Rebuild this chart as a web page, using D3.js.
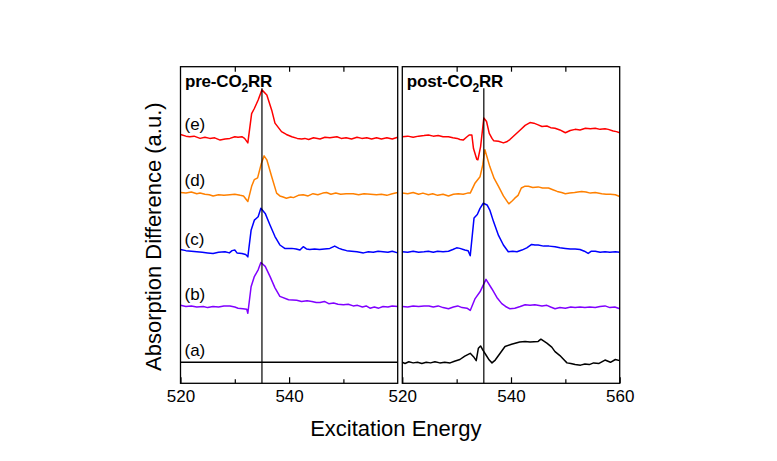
<!DOCTYPE html>
<html><head><meta charset="utf-8">
<script src="https://cdn.jsdelivr.net/npm/d3@7"></script>
<style>
html,body{margin:0;padding:0;background:#fff;}
text{font-family:"Liberation Sans",Arial,sans-serif;fill:#000;}
</style></head>
<body>
<svg id="chart" width="777" height="461"></svg>
<script>
// ---------- data ----------
const panelTitles = ["pre-CO", "post-CO"];
const seriesLabels = ["(a)", "(b)", "(c)", "(d)", "(e)"];
const seriesColors = ["#000000", "#8000ff", "#0000ff", "#ff8000", "#ff0000"];
const seriesOffsets = [0, 0.99, 1.96, 3.0, 4.0];
const markerEnergy = 535;
const xMajorTicks = [[520, 540], [520, 540, 560]];
const xMinorTicks = [530, 550];

const preA = [[520,0],[560,0]];
const preB = [[520,0.02],[521,0],[522,0.01],[523,-0.01],[524.2,0],[525,-0.02],[526,0],[527,-0.01],[528,0.01],[529.1,0.01],[530,-0.01],[530.6,-0.03],[531.5,-0.04],[532.2,-0.05],[532.4,-0.12],[533,0.35],[533.6,0.53],[534.3,0.65],[534.8,0.78],[535.6,0.71],[536.5,0.53],[537.4,0.33],[538.3,0.18],[539.9,0.12],[541.4,0.11],[542.3,0.09],[543.3,0.1],[544.2,0.09],[545,0.07],[545.7,0.07],[546.5,0.09],[547.3,0.05],[548.2,0.06],[549,0.04],[550,0.03],[550.9,0.04],[551.8,0.01],[552.6,0.02],[553.5,-0.01],[554.2,0.01],[554.9,-0.03],[555.7,-0.01],[556.5,-0.03],[557.3,0],[558.2,-0.01],[559,0.01],[560,0]];
const preC = [[520,0.04],[521,0.02],[522,0.01],[523,0],[524,-0.01],[525,-0.02],[526,-0.03],[527,-0.01],[528.2,0],[529,-0.02],[529.5,0.02],[530,0.03],[530.4,-0.02],[531.3,-0.03],[532,-0.05],[532.4,-0.09],[533,0.38],[533.6,0.56],[534.3,0.62],[534.8,0.77],[535.6,0.68],[536.5,0.47],[537.4,0.27],[538.3,0.12],[539.2,0.06],[540.5,0.06],[541.3,0.05],[542,0.03],[542.6,0.09],[543.2,0.05],[543.8,0.04],[544.7,0.05],[545.6,0.04],[546.5,0.05],[547.5,0.06],[548.4,0.1],[549.2,0.06],[549.8,0.04],[550.6,0.02],[551.5,0.01],[552.5,0],[553.7,-0.02],[554.6,0],[555.5,-0.01],[556.4,0.01],[557.3,0],[558.2,-0.01],[559,0.01],[560,-0.02]];
const preD = [[520,0.01],[521,0],[522,0.02],[523,-0.01],[523.6,0],[524.5,-0.02],[525.3,-0.03],[526,-0.05],[527,-0.03],[528,-0.04],[529.1,-0.03],[530,-0.02],[531,-0.04],[531.6,-0.05],[532.4,-0.15],[533.1,0.12],[533.6,0.24],[534.2,0.27],[534.9,0.53],[535.4,0.66],[535.9,0.59],[536.8,0.29],[537.7,0],[538.3,-0.05],[538.9,-0.07],[539.5,-0.09],[540.3,-0.07],[540.8,-0.08],[541.7,-0.04],[542.6,-0.03],[543.5,-0.05],[544.4,-0.01],[545.3,-0.03],[546.2,0],[546.9,0.01],[547.7,-0.02],[548.6,0],[549.5,-0.02],[550.5,-0.01],[551.8,-0.01],[552.8,-0.03],[553.8,-0.01],[555,-0.02],[556.1,-0.03],[557,-0.02],[558,-0.04],[559,-0.01],[560,0.01]];
const preE = [[520,0.04],[521,0.01],[521.7,0],[522.5,0.01],[523.6,-0.03],[524.5,-0.01],[525.4,-0.03],[526.3,-0.02],[527.3,-0.06],[528.2,-0.04],[529.1,-0.03],[530,0],[530.6,-0.01],[531.3,0],[531.8,-0.03],[532.4,-0.11],[533.1,0.41],[533.6,0.5],[534.3,0.65],[535,0.83],[535.9,0.74],[536.8,0.47],[537.4,0.24],[538.6,0.09],[539.5,0.04],[540.5,0],[541.5,-0.03],[542.3,-0.04],[542.9,-0.03],[543.6,-0.05],[544.5,-0.02],[545.7,-0.04],[546.6,-0.01],[547.5,-0.02],[548.8,0],[549.6,-0.03],[550.5,-0.02],[551.5,-0.04],[552.5,-0.01],[553.4,-0.03],[554.3,-0.02],[555.2,-0.04],[556.1,-0.02],[557,-0.04],[558,-0.02],[559,-0.04],[560,-0.01]];

const postA = [[520,0],[520.5,-0.02],[521.2,0.01],[522,-0.01],[522.8,0],[523.6,-0.02],[524.4,0],[525.2,-0.01],[526,0.01],[526.9,-0.01],[527.8,0],[528.8,-0.01],[529.6,0.02],[530.6,0.05],[531.5,0.11],[532.5,0.16],[533.1,0.1],[533.6,0.03],[534,0.25],[534.4,0.29],[534.8,0.22],[535.4,0.13],[536,0.04],[536.5,-0.01],[537.1,0.04],[538,0.16],[538.9,0.28],[540.1,0.32],[541.6,0.36],[542.6,0.37],[543.5,0.36],[545,0.37],[545.5,0.41],[546.6,0.34],[547.5,0.27],[548.1,0.19],[549,0.12],[549.7,0.05],[550.3,-0.01],[551,-0.02],[551.8,-0.04],[552.8,-0.05],[553.6,-0.03],[554.4,-0.04],[555.2,-0.01],[556.2,-0.02],[557.3,0.04],[558.3,0],[559.2,0.05],[560,0.03]];
const postB = [[520,0],[521,-0.01],[522,0.01],[523,0],[524,0.01],[524.9,0.01],[525.7,-0.01],[526.6,0.01],[527.5,-0.02],[528.5,-0.04],[529.4,-0.01],[530.2,0.01],[531,-0.02],[531.9,-0.03],[532.5,-0.07],[533.4,0.14],[534.3,0.26],[535.4,0.48],[536.5,0.31],[537.4,0.16],[538.3,0.05],[539,0],[539.8,-0.04],[540.7,-0.03],[541.7,0],[542.6,0.03],[543.5,0.02],[544.4,0.03],[545.7,0.01],[546.6,0.02],[547.3,-0.01],[548.1,-0.04],[549,-0.02],[550,-0.03],[551,-0.01],[551.8,-0.02],[552.7,-0.01],[553.6,-0.02],[554.5,-0.01],[555.5,-0.02],[556.4,0],[557.3,0.01],[558.2,-0.02],[559.1,-0.01],[560,-0.04]];
const postC = [[520,0],[521,-0.01],[522,0.01],[523,-0.01],[524,0],[524.8,0.01],[525.7,-0.01],[526.5,0.01],[527.5,0],[528.5,0.01],[529.3,0.04],[530,0.07],[530.6,0.06],[531.5,0.03],[532.1,0.02],[532.5,-0.07],[533.2,0.6],[533.8,0.66],[534.3,0.77],[534.9,0.86],[535.6,0.83],[536.1,0.74],[536.8,0.53],[537.7,0.29],[538.6,0.12],[539.5,0],[540.3,0.01],[541.1,0],[542,0.03],[542.9,0.07],[543.8,0.13],[544.4,0.12],[545,0.12],[546,0.1],[547,0.1],[548.1,0.09],[549,0.07],[550,0.06],[550.9,0.05],[551.8,0.05],[552.7,0.04],[553.5,0.01],[554.2,-0.03],[554.8,0.01],[555.5,0.01],[556.4,-0.01],[557.3,0],[558.2,-0.01],[559.2,0],[560,-0.01]];
const postD = [[520,0],[521,-0.01],[522,0.01],[523,-0.02],[523.8,0],[524.8,-0.03],[525.6,-0.01],[526.5,-0.04],[527.5,-0.02],[528.5,-0.05],[529.4,-0.02],[530.3,-0.01],[531.2,-0.02],[532,0],[532.5,0],[533.4,0.18],[534.3,0.29],[534.8,0.5],[535.2,0.77],[536.1,0.47],[536.9,0.26],[537.7,0.12],[538.6,-0.05],[539.6,-0.19],[540.2,-0.14],[540.7,-0.09],[541.3,-0.04],[541.9,0.09],[542.5,0.12],[543.2,0.12],[544,0.1],[545,0.11],[545.8,0.09],[546.9,0.09],[547.7,0.06],[548.5,0.03],[549.3,0.01],[550,-0.01],[550.8,0],[551.7,0.01],[552.3,0.02],[553,0.03],[553.8,0.02],[554.6,0],[555.5,0.01],[556.7,-0.01],[557.5,-0.02],[558.3,-0.02],[559.2,-0.03],[560,-0.06]];
const postE = [[520,0],[521,0.01],[522,-0.01],[523,0.01],[524,0.02],[524.8,0.03],[525.7,0.01],[526.6,0.02],[527.5,0],[528.5,0],[529.3,-0.02],[530.1,-0.03],[530.6,-0.05],[531.2,-0.06],[531.8,-0.01],[532.3,0.03],[532.8,0.03],[533.1,-0.21],[533.7,-0.4],[533.9,-0.41],[534.4,-0.18],[535,0.33],[535.5,0.27],[536,0.06],[536.5,-0.03],[536.8,-0.07],[537.7,-0.08],[538.6,-0.11],[539.2,-0.09],[539.8,-0.05],[540.8,0.04],[541.7,0.12],[542.6,0.2],[543.5,0.25],[544.2,0.24],[545,0.21],[545.7,0.18],[546.6,0.19],[547.3,0.16],[548.1,0.15],[549,0.12],[550,0.07],[550.9,0.11],[551.8,0.13],[552.7,0.12],[553.7,0.15],[554.6,0.14],[555.5,0.15],[556.4,0.13],[557.3,0.14],[557.9,0.13],[558.8,0.1],[559.4,0.09],[560,0.07]];

const panelSeries = [[preA, preB, preC, preD, preE], [postA, postB, postC, postD, postE]];

// ---------- layout ----------
const svg = d3.select("#chart");
const plotTop = 66.7, plotBottom = 383.3;
const panelX = [[180.5, 397.7], [402.3, 619.7]];
const y = d3.scaleLinear().domain([-0.372, 5.241]).range([plotBottom, plotTop]);
const markerTop = 4.86;

panelSeries.forEach((series, p) => {
  const x = d3.scaleLinear().domain([520, 560]).range(panelX[p]);
  const g = svg.append("g");
  const line = d3.line().x(d => x(d[0])).y(d => y(d[1]));

  series.forEach((s, i) => {
    g.append("path")
      .datum(s.map(d => [d[0], d[1] + seriesOffsets[i]]))
      .attr("d", line)
      .attr("fill", "none")
      .attr("stroke", seriesColors[i])
      .attr("stroke-width", 1.5)
      .attr("stroke-linejoin", "round");
  });

  // marker line
  g.append("line")
    .attr("x1", x(markerEnergy)).attr("x2", x(markerEnergy))
    .attr("y1", y(markerTop)).attr("y2", plotBottom)
    .attr("stroke", "#000").attr("stroke-width", 1.2);

  // axes
  const axB = g.append("g").attr("transform", `translate(0,${plotBottom})`)
    .call(d3.axisBottom(x).tickValues(xMajorTicks[p]).tickSize(-6).tickSizeOuter(0).tickPadding(7).tickFormat(d3.format("d")));
  axB.select(".domain").remove();
  axB.selectAll("text").attr("font-size", 17).style("font-family", '"Liberation Sans",Arial,sans-serif');
  axB.selectAll("line").attr("stroke-width", 1.2);
  const axBm = g.append("g").attr("transform", `translate(0,${plotBottom})`)
    .call(d3.axisBottom(x).tickValues(xMinorTicks).tickSize(-4).tickFormat(""));
  axBm.select(".domain").remove();
  axBm.selectAll("line").attr("stroke-width", 1.2);
  const axT = g.append("g").attr("transform", `translate(0,${plotTop})`)
    .call(d3.axisTop(x).tickValues([530, 540, 550]).tickSize(-5).tickFormat(""));
  axT.select(".domain").remove();
  axT.selectAll("line").attr("stroke-width", 1.2);

  // frame
  g.append("rect")
    .attr("x", panelX[p][0]).attr("y", plotTop)
    .attr("width", panelX[p][1] - panelX[p][0]).attr("height", plotBottom - plotTop)
    .attr("fill", "none").attr("stroke", "#000").attr("stroke-width", 1.3);

  // title
  const t = g.append("text")
    .attr("x", panelX[p][0] + 4.5).attr("y", 87)
    .attr("font-size", 17).attr("font-weight", "bold").attr("letter-spacing", -0.2);
  t.append("tspan").text(panelTitles[p]);
  t.append("tspan").attr("font-size", 12).attr("dy", 4.7).text("2");
  t.append("tspan").attr("dy", -4.7).text("RR");

  if (p === 0) {
    seriesLabels.forEach((lab, i) => {
      g.append("text")
        .attr("x", 184.5).attr("y", y(seriesOffsets[i] + 0.12))
        .attr("font-size", 17).text(lab);
    });
  }
});

svg.append("text")
  .attr("x", 395.8).attr("y", 436)
  .attr("text-anchor", "middle").attr("font-size", 22)
  .text("Excitation Energy");
svg.append("text")
  .attr("transform", "translate(160.5,236.7) rotate(-90)")
  .attr("text-anchor", "middle").attr("font-size", 22)
  .text("Absorption Difference (a.u.)");
</script>
</body></html>
